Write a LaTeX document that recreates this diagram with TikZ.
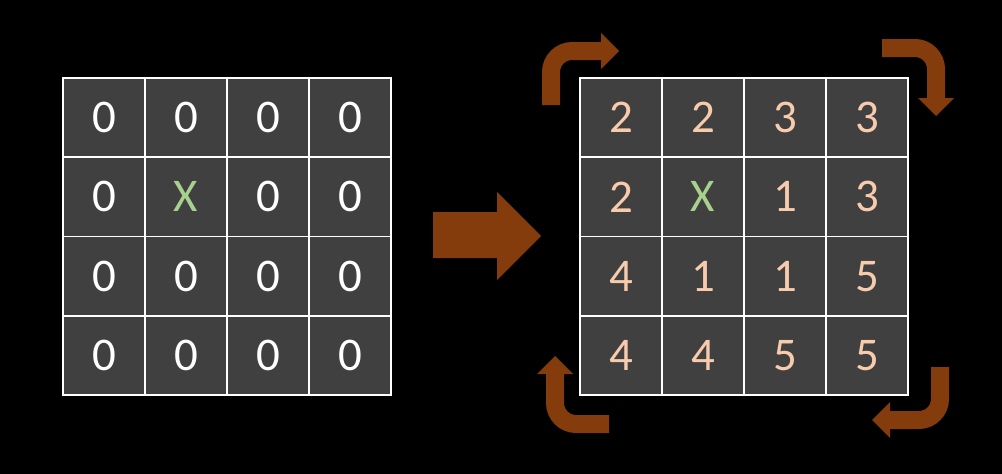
\documentclass[tikz,border=0pt]{standalone}
\usepackage{fontspec}
\setmainfont{Carlito}
\usepackage{tikz}
\usepackage{xcolor}

\definecolor{cellgray}{HTML}{404040}
\definecolor{rust}{HTML}{843C0C}
\definecolor{peach}{HTML}{F8CBAD}
\definecolor{sage}{HTML}{A9D18E}
\newcommand{\hit}{\color{sage}X}

\begin{document}
\begin{tikzpicture}[
      x = 0.03cm, y = -0.03cm,
      cell/.style = {draw = white, line width = 1.7pt, fill = cellgray, inner sep = 0pt,
                     minimum width = 2.46cm, minimum height = 2.3775cm,
                     font = \fontsize{40}{48}\selectfont},
      turn/.style = {draw = rust, line width = 0.54cm, rounded corners = 0.63cm}
      ]
      \fill[black] (0,0) rectangle (1002,474);
      \useasboundingbox (0,0) rectangle (1002,474);
      % left grid
      \foreach \row [count=\r] in {{0,0,0,0},{0,\hit,0,0},{0,0,0,0},{0,0,0,0}}
            \foreach \v [count=\c] in \row
                  \node[cell, text = white] (l\r\c) at ({22+82*\c}, {38.375+79.25*\r}) {\v};
      % right grid
      \foreach \row [count=\r] in {{2,2,3,3},{2,\hit,1,3},{4,1,1,5},{4,4,5,5}}
            \foreach \v [count=\c] in \row
                  \node[cell, text = peach] (r\r\c) at ({539+82*\c}, {38.375+79.25*\r}) {\v};
      % big arrow
      \fill[rust] (433,212) -- (497,212) -- (497,192) -- (541,236) -- (497,280)
            -- (497,258) -- (433,258) -- cycle;
      % turning arrows
      \draw[turn] (551,105) |- (602,51);
      \fill[rust] (601,33) -- (619,51) -- (601,69) -- cycle;
      \draw[turn] (882,48) -| (936,99);
      \fill[rust] (918,98) -- (936,116) -- (954,98) -- cycle;
      \draw[turn] (940,367) |- (889,420);
      \fill[rust] (890,402) -- (872,420) -- (890,438) -- cycle;
      \draw[turn] (609,424) -| (555,373);
      \fill[rust] (537,374) -- (555,356) -- (573,374) -- cycle;
\end{tikzpicture}
\end{document}
